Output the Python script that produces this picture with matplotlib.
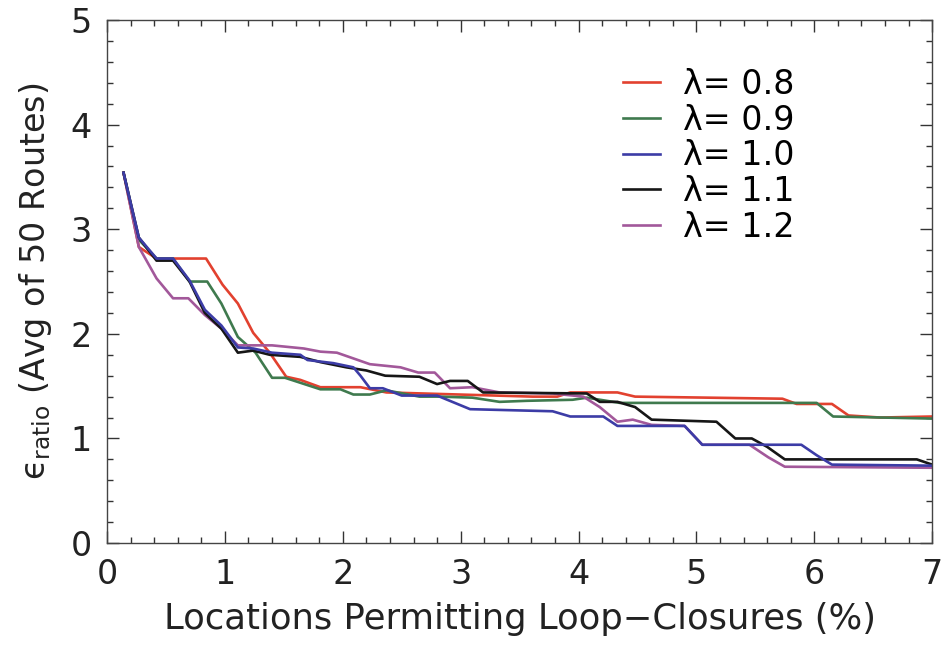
import numpy as np
import matplotlib.pyplot as plt
from matplotlib.ticker import MultipleLocator

# Curves (x in %, y = eps_ratio)
x_08 = [0.14, 0.27, 0.42, 0.84, 0.98, 1.11, 1.24, 1.38, 1.52, 1.64, 1.81, 2.15, 2.37, 3.61, 3.82, 3.93,
        4.33, 4.48, 5.73, 5.85, 6.15, 6.29, 6.56, 7.0]
y_08 = [3.54, 2.83, 2.72, 2.72, 2.47, 2.29, 2.01, 1.82, 1.59, 1.56, 1.49, 1.49, 1.44, 1.40, 1.40, 1.44,
        1.44, 1.40, 1.38, 1.33, 1.33, 1.22, 1.20, 1.21]

x_09 = [0.14, 0.27, 0.42, 0.56, 0.70, 0.85, 0.97, 1.11, 1.26, 1.40, 1.51, 1.81, 1.98, 2.09, 2.23, 2.37,
        2.65, 2.82, 3.10, 3.33, 3.56, 3.95, 4.07, 4.35, 6.02, 6.16, 7.0]
y_09 = [3.54, 2.90, 2.72, 2.72, 2.50, 2.50, 2.29, 1.97, 1.82, 1.58, 1.58, 1.47, 1.47, 1.42, 1.42, 1.46,
        1.40, 1.40, 1.39, 1.35, 1.36, 1.37, 1.39, 1.34, 1.34, 1.21, 1.19]

x_10 = [0.14, 0.27, 0.42, 0.56, 0.70, 0.83, 0.97, 1.11, 1.24, 1.40, 1.64, 1.70, 1.92, 2.09, 2.15, 2.23,
        2.34, 2.50, 2.80, 3.08, 3.78, 3.93, 4.21, 4.33, 4.90, 5.05, 5.89, 6.02, 6.15, 7.0]
y_10 = [3.54, 2.92, 2.72, 2.72, 2.51, 2.23, 2.08, 1.87, 1.86, 1.82, 1.80, 1.75, 1.72, 1.68, 1.60, 1.48,
        1.48, 1.41, 1.41, 1.28, 1.26, 1.21, 1.21, 1.12, 1.12, 0.94, 0.94, 0.84, 0.75, 0.74]

x_11 = [0.14, 0.27, 0.42, 0.56, 0.70, 0.83, 0.97, 1.11, 1.24, 1.38, 1.64, 1.81, 2.03, 2.20, 2.36, 2.65,
        2.80, 2.91, 3.06, 3.19, 4.07, 4.18, 4.33, 4.48, 4.62, 5.17, 5.33, 5.47, 5.60, 5.75, 6.87, 7.0]
y_11 = [3.54, 2.92, 2.70, 2.70, 2.50, 2.20, 2.05, 1.82, 1.84, 1.80, 1.78, 1.73, 1.68, 1.65, 1.60, 1.59,
        1.52, 1.55, 1.55, 1.44, 1.43, 1.35, 1.35, 1.30, 1.18, 1.16, 1.00, 1.00, 0.92, 0.80, 0.80, 0.75]

x_12 = [0.14, 0.27, 0.42, 0.56, 0.69, 0.83, 0.97, 1.11, 1.40, 1.67, 1.81, 1.95, 2.23, 2.49, 2.64, 2.78,
        2.91, 3.10, 3.33, 3.78, 4.04, 4.18, 4.33, 4.46, 4.62, 4.90, 5.05, 5.45, 5.61, 5.75, 7.0]
y_12 = [3.54, 2.83, 2.53, 2.34, 2.34, 2.18, 2.05, 1.89, 1.89, 1.86, 1.83, 1.82, 1.71, 1.68, 1.63, 1.63,
        1.48, 1.49, 1.44, 1.43, 1.40, 1.30, 1.16, 1.18, 1.13, 1.12, 0.94, 0.94, 0.82, 0.73, 0.72]

lambdas = ['0.8', '0.9', '1.0', '1.1', '1.2']
xs = [x_08, x_09, x_10, x_11, x_12]
ys = [y_08, y_09, y_10, y_11, y_12]
colors = ['#e2412f', '#3f7a4e', '#3c3ca6', '#161616', '#a2589a']
zorders = [2, 2.1, 2.4, 2.3, 2.2]

fig = plt.figure(figsize=(9.43, 6.45), dpi=100)
ax = fig.add_axes([0.1135, 0.158, 0.875, 0.811])

for x, y, lam, c, z in zip(xs, ys, lambdas, colors, zorders):
    ax.plot(x, y, color=c, lw=1.9, label=f'λ= {lam}', zorder=z)

ax.set_xlim(0, 7)
ax.set_ylim(0, 5)
ax.xaxis.set_major_locator(MultipleLocator(1))
ax.yaxis.set_major_locator(MultipleLocator(1))
ax.xaxis.set_minor_locator(MultipleLocator(0.2))
ax.yaxis.set_minor_locator(MultipleLocator(0.2))
ax.tick_params(which='both', direction='in', top=True, right=True, colors='#333333',
               labelcolor='#222222')
ax.tick_params(which='major', length=8.5, width=1, labelsize=24, pad=11)
ax.tick_params(which='minor', length=4, width=1)
for s in ax.spines.values():
    s.set_color('#444444')
    s.set_linewidth(1)

ax.set_xlabel('Locations Permitting Loop\u2212Closures (%)', fontsize=25.5, color='#222222', labelpad=8)
ax.set_ylabel('\u03f5$_{\\mathregular{ratio}}$ (Avg of 50 Routes)', fontsize=24, color='#222222',
              labelpad=12)

ax.legend(loc='upper left', bbox_to_anchor=(0.605, 0.94), frameon=False, fontsize=24,
          handlelength=1.1, handletextpad=0.7, labelspacing=0.08, borderpad=0)

fig.savefig('out.png', dpi=100)
